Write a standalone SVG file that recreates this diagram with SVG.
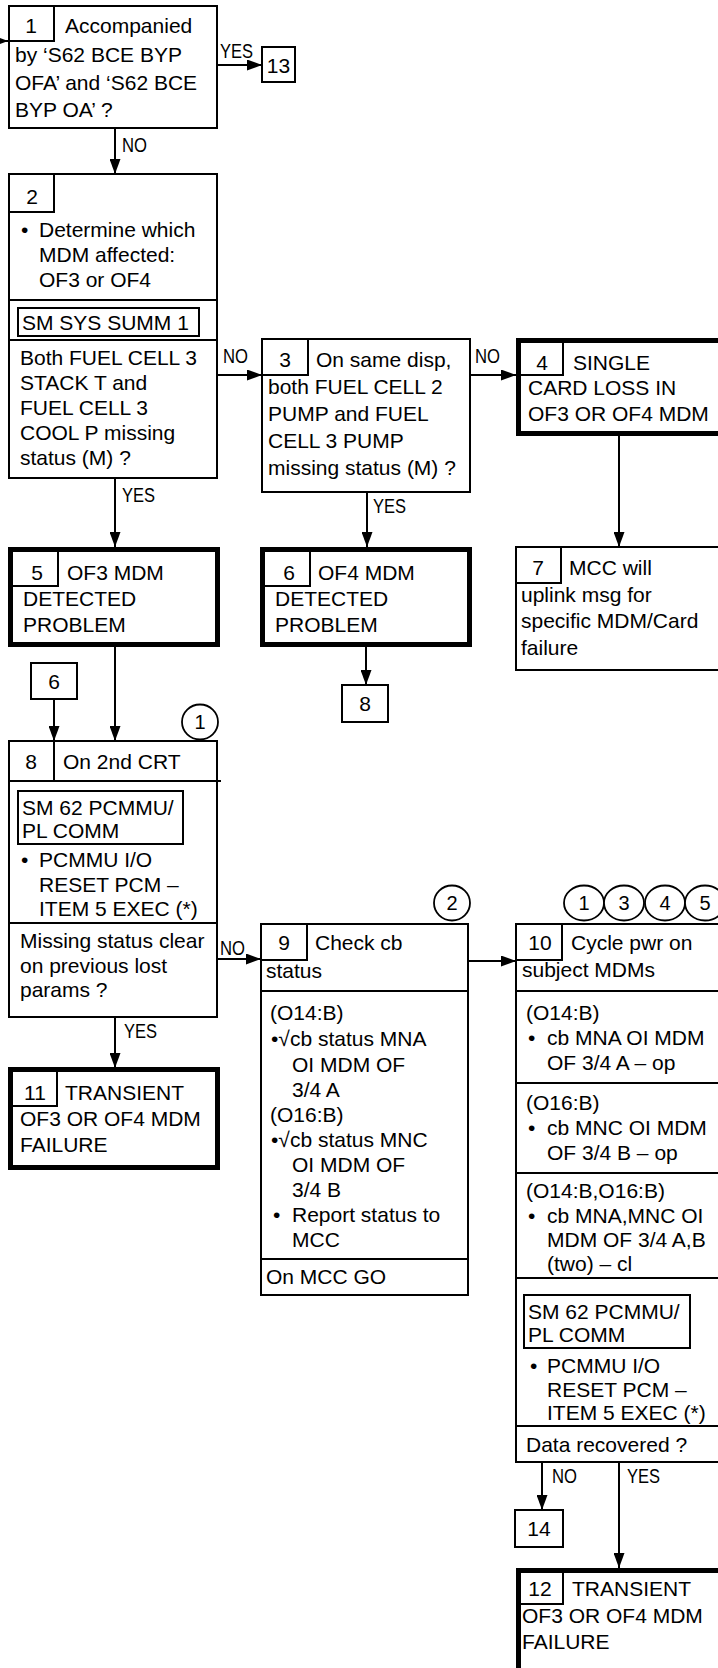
<svg xmlns="http://www.w3.org/2000/svg" width="718" height="1668" viewBox="0 0 718 1668">
<defs>
<marker id="ah" markerUnits="userSpaceOnUse" markerWidth="15" markerHeight="11" refX="15" refY="5.5" orient="auto">
<path d="M0,0 L15,5.5 L0,11 z" fill="#000"/>
</marker>
<style>
text{font-family:"Liberation Sans",Arial,Helvetica,sans-serif;font-size:21px;fill:#000}
.m{text-anchor:middle}
.lbl{font-size:20px}
.cn{font-size:20px;text-anchor:middle}
.box{fill:#fff;stroke:#000;stroke-width:2}
.thick{fill:#fff;stroke:#000;stroke-width:5}
.ln{stroke:#000;stroke-width:2;fill:none}
.conn{stroke:#000;stroke-width:2;fill:none;marker-end:url(#ah)}
.circ{fill:#fff;stroke:#000;stroke-width:1.8}
</style>
</defs>
<rect width="718" height="1668" fill="#fff"/>

<g id="connectors">
<line class="conn" x1="-10" y1="41" x2="8" y2="41"/>
<line class="conn" x1="218" y1="65" x2="262" y2="65"/>
<line class="conn" x1="115" y1="129" x2="115" y2="174"/>
<line class="conn" x1="217" y1="375" x2="262" y2="375"/>
<line class="conn" x1="470" y1="375" x2="516" y2="375"/>
<line class="conn" x1="115" y1="478" x2="115" y2="547"/>
<line class="conn" x1="367" y1="492" x2="367" y2="547"/>
<line class="conn" x1="619" y1="436" x2="619" y2="547"/>
<line class="conn" x1="366" y1="647" x2="366" y2="685"/>
<line class="conn" x1="115" y1="647" x2="115" y2="741"/>
<line class="conn" x1="54" y1="699" x2="54" y2="741"/>
<line class="conn" x1="217" y1="959" x2="261" y2="959"/>
<line class="conn" x1="115" y1="1017" x2="115" y2="1068"/>
<line class="conn" x1="468" y1="961" x2="516" y2="961"/>
<line class="conn" x1="542" y1="1462" x2="542" y2="1510"/>
<line class="conn" x1="619" y1="1462" x2="619" y2="1568"/>
<text class="lbl" x="220" y="58" textLength="33" lengthAdjust="spacingAndGlyphs">YES</text>
<text class="lbl" x="122" y="152" textLength="25" lengthAdjust="spacingAndGlyphs">NO</text>
<text class="lbl" x="223" y="363" textLength="25" lengthAdjust="spacingAndGlyphs">NO</text>
<text class="lbl" x="475" y="363" textLength="25" lengthAdjust="spacingAndGlyphs">NO</text>
<text class="lbl" x="122" y="502" textLength="33" lengthAdjust="spacingAndGlyphs">YES</text>
<text class="lbl" x="373" y="513" textLength="33" lengthAdjust="spacingAndGlyphs">YES</text>
<text class="lbl" x="220" y="955" textLength="25" lengthAdjust="spacingAndGlyphs">NO</text>
<text class="lbl" x="124" y="1038" textLength="33" lengthAdjust="spacingAndGlyphs">YES</text>
<text class="lbl" x="552" y="1483" textLength="25" lengthAdjust="spacingAndGlyphs">NO</text>
<text class="lbl" x="627" y="1483" textLength="33" lengthAdjust="spacingAndGlyphs">YES</text>
</g>

<g id="node1">
<rect class="box" x="9" y="6" width="208" height="122"/>
<path class="ln" d="M54,6 V41 H9"/>
<text class="m" x="31" y="33">1</text>
<text x="65" y="33">Accompanied</text>
<text x="15" y="62">by ‘S62 BCE BYP</text>
<text x="15" y="90">OFA’ and ‘S62 BCE</text>
<text x="15" y="117">BYP OA’ ?</text>
</g>

<g id="node13">
<rect class="box" x="262" y="47" width="33" height="35"/>
<text class="m" x="278.5" y="73">13</text>
</g>

<g id="node2">
<rect class="box" x="9" y="174" width="208" height="304"/>
<path class="ln" d="M54,174 V212 H9"/>
<text class="m" x="32" y="204">2</text>
<text x="21" y="237">•</text>
<text x="39" y="237">Determine which</text>
<text x="39" y="262">MDM affected:</text>
<text x="39" y="287">OF3 or OF4</text>
<line class="ln" x1="9" y1="300" x2="217" y2="300"/>
<rect class="box" x="18" y="308" width="181" height="28"/>
<text x="22" y="330">SM SYS SUMM 1</text>
<line class="ln" x1="9" y1="340" x2="217" y2="340"/>
<text x="20" y="365">Both FUEL CELL 3</text>
<text x="20" y="390">STACK T and</text>
<text x="20" y="415">FUEL CELL 3</text>
<text x="20" y="440">COOL P missing</text>
<text x="20" y="465">status (M) ?</text>
</g>

<g id="node3">
<rect class="box" x="262" y="339" width="208" height="153"/>
<path class="ln" d="M308,339 V375 H262"/>
<text class="m" x="285" y="367">3</text>
<text x="316" y="367">On same disp,</text>
<text x="268" y="394">both FUEL CELL 2</text>
<text x="268" y="421">PUMP and FUEL</text>
<text x="268" y="448">CELL 3 PUMP</text>
<text x="268" y="475">missing status (M) ?</text>
</g>

<g id="node4">
<rect class="thick" x="518.5" y="340.5" width="220" height="93"/>
<path class="ln" d="M563,340 V375 H518"/>
<text class="m" x="542" y="370">4</text>
<text x="573" y="370">SINGLE</text>
<text x="528" y="395">CARD LOSS IN</text>
<text x="528" y="421">OF3 OR OF4 MDM</text>
</g>

<g id="node5">
<rect class="thick" x="10.5" y="549.5" width="207" height="95"/>
<path class="ln" d="M58,549 V586 H10"/>
<text class="m" x="37" y="580">5</text>
<text x="67" y="580">OF3 MDM</text>
<text x="23" y="606">DETECTED</text>
<text x="23" y="632">PROBLEM</text>
</g>

<g id="node6">
<rect class="thick" x="262.5" y="549.5" width="207" height="95"/>
<path class="ln" d="M310,549 V586 H262"/>
<text class="m" x="289" y="580">6</text>
<text x="318" y="580">OF4 MDM</text>
<text x="275" y="606">DETECTED</text>
<text x="275" y="632">PROBLEM</text>
</g>

<g id="node7">
<rect class="box" x="516" y="547" width="220" height="123"/>
<path class="ln" d="M561,547 V583 H516"/>
<text class="m" x="538" y="575">7</text>
<text x="569" y="575">MCC will</text>
<text x="521" y="602">uplink msg for</text>
<text x="521" y="628">specific MDM/Card</text>
<text x="521" y="655">failure</text>
</g>

<g id="ref8">
<rect class="box" x="342" y="685" width="46" height="37"/>
<text class="m" x="365" y="711">8</text>
</g>

<g id="ref6">
<rect class="box" x="31" y="663" width="46" height="36"/>
<text class="m" x="54" y="689">6</text>
</g>

<g id="node8">
<ellipse class="circ" cx="200" cy="722" rx="18" ry="17.5"/>
<text class="cn" x="200" y="729">1</text>
<rect class="box" x="9" y="741" width="208" height="276"/>
<line class="ln" x1="9" y1="781" x2="221" y2="781"/>
<line class="ln" x1="54" y1="741" x2="54" y2="781"/>
<text class="m" x="31" y="769">8</text>
<text x="63" y="769">On 2nd CRT</text>
<rect class="box" x="18" y="791" width="165" height="53"/>
<text x="22" y="815">SM 62 PCMMU/</text>
<text x="22" y="838">PL COMM</text>
<text x="21" y="867">•</text>
<text x="39" y="867">PCMMU I/O</text>
<text x="39" y="892">RESET PCM –</text>
<text x="39" y="916">ITEM 5 EXEC (*)</text>
<line class="ln" x1="9" y1="923" x2="217" y2="923"/>
<text x="20" y="948">Missing status clear</text>
<text x="20" y="973">on previous lost</text>
<text x="20" y="997">params ?</text>
</g>

<g id="node11">
<rect class="thick" x="10.5" y="1069.5" width="207" height="98"/>
<path class="ln" d="M57,1069 V1106 H10"/>
<text class="m" x="35" y="1100">11</text>
<text x="65" y="1100">TRANSIENT</text>
<text x="20" y="1126">OF3 OR OF4 MDM</text>
<text x="20" y="1152">FAILURE</text>
</g>

<g id="node9">
<ellipse class="circ" cx="452" cy="903" rx="18" ry="17.5"/>
<text class="cn" x="452" y="910">2</text>
<rect class="box" x="261" y="924" width="207" height="371"/>
<path class="ln" d="M307,924 V960 H261"/>
<text class="m" x="284" y="950">9</text>
<text x="315" y="950">Check cb</text>
<text x="266" y="978">status</text>
<line class="ln" x1="261" y1="991" x2="468" y2="991"/>
<text x="270" y="1020">(O14:B)</text>
<text x="271" y="1046">•√cb status MNA</text>
<text x="292" y="1072">OI MDM OF</text>
<text x="292" y="1097">3/4 A</text>
<text x="270" y="1122">(O16:B)</text>
<text x="271" y="1147">•√cb status MNC</text>
<text x="292" y="1172">OI MDM OF</text>
<text x="292" y="1197">3/4 B</text>
<text x="273" y="1222">•</text>
<text x="292" y="1222">Report status to</text>
<text x="292" y="1247">MCC</text>
<line class="ln" x1="261" y1="1259" x2="468" y2="1259"/>
<text x="266" y="1284">On MCC GO</text>
</g>

<g id="node10">
<ellipse class="circ" cx="584" cy="903" rx="20" ry="17.5"/>
<ellipse class="circ" cx="624" cy="903" rx="20" ry="17.5"/>
<ellipse class="circ" cx="665" cy="903" rx="20" ry="17.5"/>
<ellipse class="circ" cx="705" cy="903" rx="20" ry="17.5"/>
<text class="cn" x="584" y="910">1</text>
<text class="cn" x="624" y="910">3</text>
<text class="cn" x="665" y="910">4</text>
<text class="cn" x="705" y="910">5</text>
<rect class="box" x="516" y="924" width="220" height="538"/>
<path class="ln" d="M562,924 V960 H516"/>
<text class="m" x="540" y="950">10</text>
<text x="571" y="950">Cycle pwr on</text>
<text x="522" y="977">subject MDMs</text>
<line class="ln" x1="516" y1="991" x2="718" y2="991"/>
<text x="526" y="1020">(O14:B)</text>
<text x="528" y="1045">•</text>
<text x="547" y="1045">cb MNA OI MDM</text>
<text x="547" y="1070">OF 3/4 A – op</text>
<line class="ln" x1="516" y1="1083" x2="718" y2="1083"/>
<text x="526" y="1110">(O16:B)</text>
<text x="528" y="1135">•</text>
<text x="547" y="1135">cb MNC OI MDM</text>
<text x="547" y="1160">OF 3/4 B – op</text>
<line class="ln" x1="516" y1="1173" x2="718" y2="1173"/>
<text x="526" y="1198">(O14:B,O16:B)</text>
<text x="528" y="1223">•</text>
<text x="547" y="1223">cb MNA,MNC OI</text>
<text x="547" y="1247">MDM OF 3/4 A,B</text>
<text x="547" y="1271">(two) – cl</text>
<line class="ln" x1="516" y1="1278" x2="718" y2="1278"/>
<rect class="box" x="524" y="1295" width="166" height="53"/>
<text x="528" y="1319">SM 62 PCMMU/</text>
<text x="528" y="1342">PL COMM</text>
<text x="530" y="1373">•</text>
<text x="547" y="1373">PCMMU I/O</text>
<text x="547" y="1397">RESET PCM –</text>
<text x="547" y="1420">ITEM 5 EXEC (*)</text>
<line class="ln" x1="516" y1="1426" x2="718" y2="1426"/>
<text x="526" y="1452">Data recovered ?</text>
</g>

<g id="node14">
<rect class="box" x="515" y="1510" width="48" height="37"/>
<text class="m" x="539" y="1536">14</text>
</g>

<g id="node12">
<rect class="thick" x="518.5" y="1570.5" width="220" height="110"/>
<path class="ln" d="M563,1570 V1604 H518"/>
<text class="m" x="540" y="1596">12</text>
<text x="572" y="1596">TRANSIENT</text>
<text x="522" y="1623">OF3 OR OF4 MDM</text>
<text x="522" y="1649">FAILURE</text>
</g>
</svg>
